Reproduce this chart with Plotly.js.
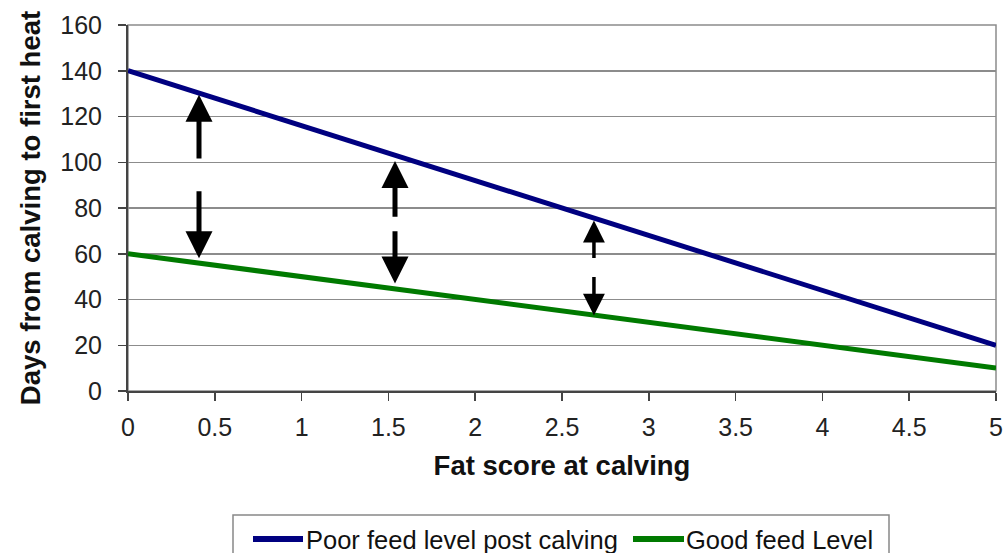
<!DOCTYPE html>
<html>
<head>
<meta charset="utf-8">
<script src="https://cdn.plot.ly/plotly-3.0.1.min.js"></script>
<style>
html,body{margin:0;padding:0;background:#fff;}
#wrap{width:1005px;height:553px;overflow:hidden;}
#chart{width:1005px;height:590px;}
</style>
</head>
<body>
<div id="wrap"><div id="chart"></div></div>
<script>
// Data
var fatScore = [0, 5];
var poorFeed = [140, 20];
var goodFeed = [60, 10];
var seriesNames = ['Poor feed level post calving', 'Good feed Level'];
var seriesColors = ['#000080', '#007a00'];
var yTicks = [0, 20, 40, 60, 80, 100, 120, 140, 160];
var xTicks = [0, 0.5, 1, 1.5, 2, 2.5, 3, 3.5, 4, 4.5, 5];
var xTickText = ['0', '0.5', '1', '1.5', '2', '2.5', '3', '3.5', '4', '4.5', '5'];
// Double arrows (dashed) between the two lines
var arrowX = [0.409, 1.538, 2.684];
var arrowTop = [129.5, 100.5, 74.5];
var arrowBottom = [58, 47, 33];
var gapUpper = [101, 75.5, 57.5];
var gapLower = [88, 70.5, 50.5];
var arrowW = [5, 5, 3.5];
var arrowS = [1.08, 1.08, 1.25];

var FONT = 'Arial, "Liberation Sans", sans-serif';

var traces = [
  {x: fatScore, y: poorFeed, name: seriesNames[0], mode: 'lines', type: 'scatter',
   line: {color: seriesColors[0], width: 5}, cliponaxis: false},
  {x: fatScore, y: goodFeed, name: seriesNames[1], mode: 'lines', type: 'scatter',
   line: {color: seriesColors[1], width: 5}, cliponaxis: false}
];

var annotations = [];
for (var i = 0; i < arrowX.length; i++) {
  annotations.push({x: arrowX[i], y: arrowTop[i], ax: arrowX[i], ay: gapUpper[i],
    xref: 'x', yref: 'y', axref: 'x', ayref: 'y', text: '', showarrow: true,
    arrowhead: 2, arrowwidth: arrowW[i], arrowsize: arrowS[i], arrowcolor: '#000'});
  annotations.push({x: arrowX[i], y: arrowBottom[i], ax: arrowX[i], ay: gapLower[i],
    xref: 'x', yref: 'y', axref: 'x', ayref: 'y', text: '', showarrow: true,
    arrowhead: 2, arrowwidth: arrowW[i], arrowsize: arrowS[i], arrowcolor: '#000'});
}

// Manual legend (pixel positions converted to paper coords)
var PL = 128, PW = 868, PB = 391, PH = 366;
function px(x) { return (x - PL) / PW; }
function py(y) { return (PB - y) / PH; }
var legendY = 539;
var legendItems = [{x0: 253, x1: 303, tx: 304}, {x0: 633, x1: 684, tx: 684}];

var shapes = [
  {type: 'rect', xref: 'paper', yref: 'paper', x0: 0, x1: 1, y0: 0, y1: 1,
   line: {color: '#8c8c8c', width: 1.5}, layer: 'below'},
  {type: 'rect', xref: 'paper', yref: 'paper', x0: px(233), x1: px(889), y0: py(515), y1: py(580),
   line: {color: '#888', width: 1.5}, fillcolor: '#fff'}
];
legendItems.forEach(function (it, k) {
  shapes.push({type: 'line', xref: 'paper', yref: 'paper', x0: px(it.x0), x1: px(it.x1),
    y0: py(legendY), y1: py(legendY), line: {color: seriesColors[k], width: 6}});
  annotations.push({xref: 'paper', yref: 'paper', x: px(it.tx), y: py(legendY + 1),
    xanchor: 'left', yanchor: 'middle', showarrow: false, text: seriesNames[k],
    font: {size: 25.5, family: FONT, color: '#111'}});
});

var layout = {
  width: 1005, height: 590,
  margin: {l: 128, r: 9, t: 25, b: 199},
  paper_bgcolor: '#fff', plot_bgcolor: '#fff',
  font: {family: FONT, color: '#222'},
  showlegend: false,
  xaxis: {
    range: [0, 5], tickvals: xTicks, ticktext: xTickText,
    ticks: 'outside', ticklen: 8, tickwidth: 1.5, tickcolor: '#444',
    showline: true, linecolor: '#444', linewidth: 2,
    showgrid: false, zeroline: false,
    tickfont: {size: 25, family: FONT, color: '#222'},
    ticklabelstandoff: 5,
    title: {text: '<b>Fat score at calving</b>', font: {size: 27.5, family: FONT, color: '#111'}, standoff: 16},
    automargin: false
  },
  yaxis: {
    range: [0, 160], tickvals: yTicks,
    ticks: 'outside', ticklen: 8, tickwidth: 1.5, tickcolor: '#444',
    showline: true, linecolor: '#444', linewidth: 2,
    showgrid: true, gridcolor: '#8c8c8c', gridwidth: 1.5, zeroline: false,
    tickfont: {size: 25, family: FONT, color: '#222'},
    ticklabelstandoff: 11,
    title: {text: '<b>Days from calving to first heat</b>', font: {size: 27.5, family: FONT, color: '#111'}, standoff: 12},
    automargin: false
  },
  shapes: shapes,
  annotations: annotations
};

Plotly.newPlot('chart', traces, layout, {displayModeBar: false, staticPlot: true});
</script>
</body>
</html>
